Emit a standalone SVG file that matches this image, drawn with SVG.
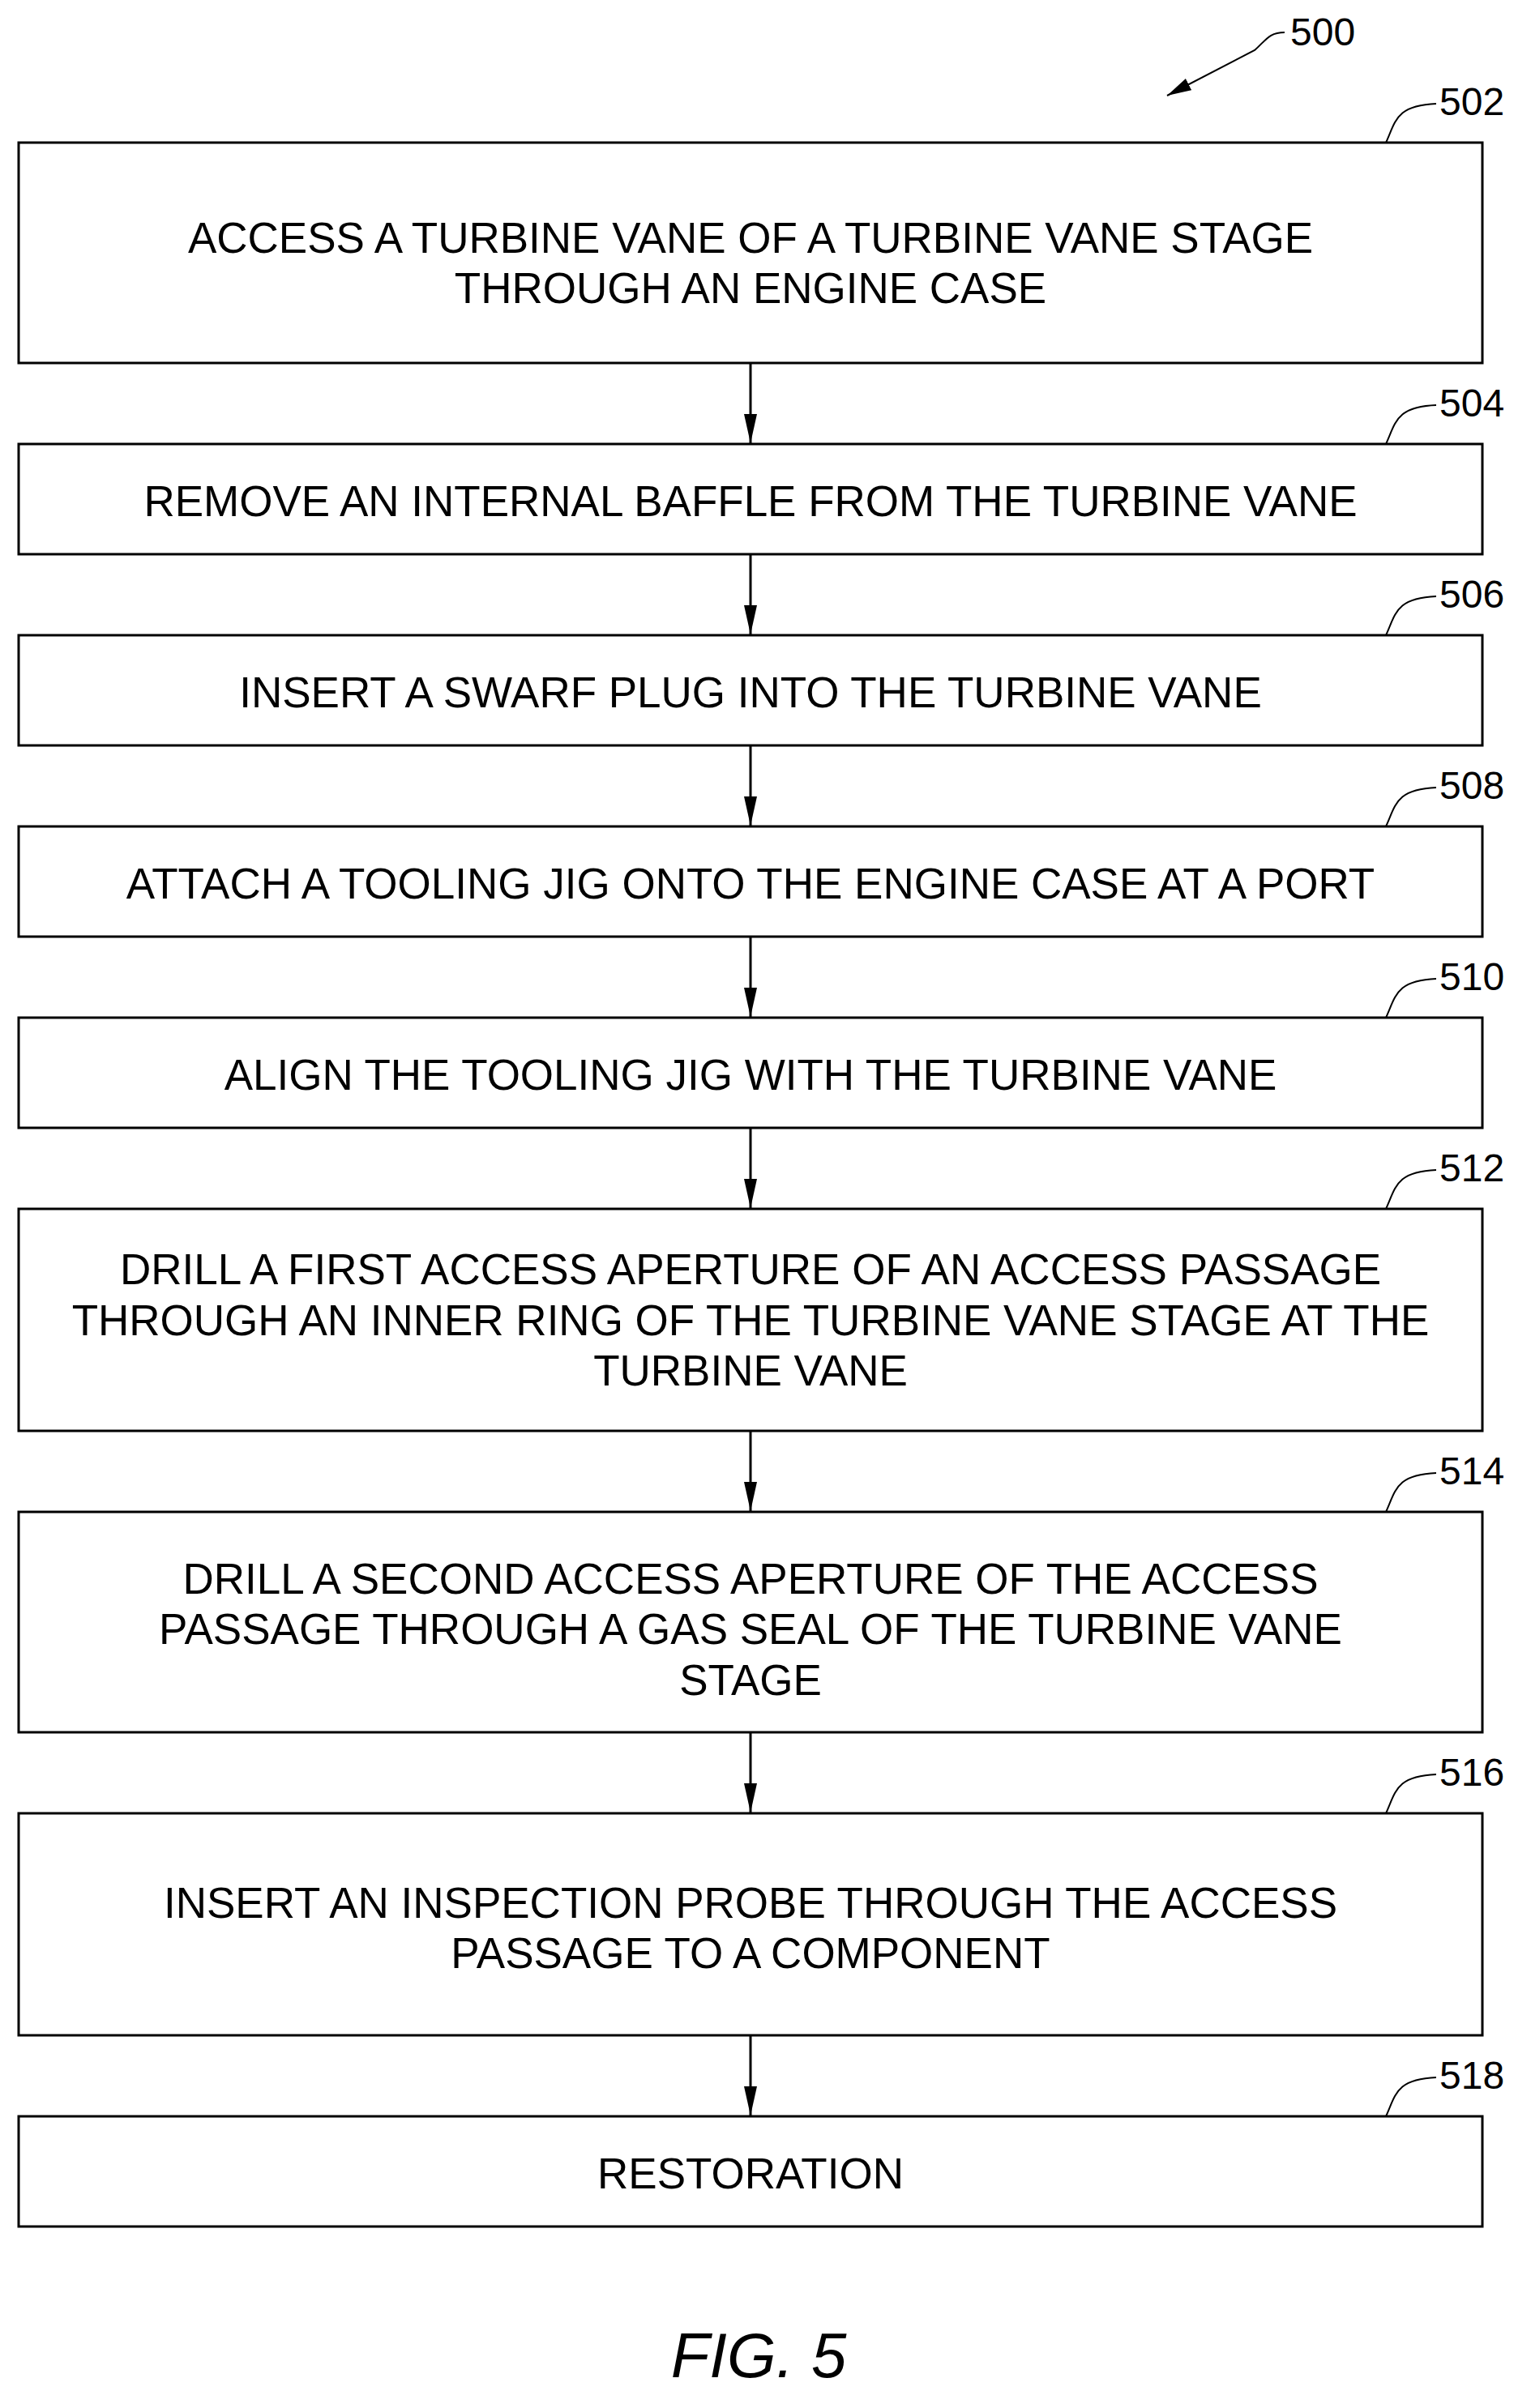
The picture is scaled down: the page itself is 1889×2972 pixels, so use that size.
<svg xmlns="http://www.w3.org/2000/svg" width="1889" height="2972" viewBox="0 0 1889 2972">
<style>
.b{fill:none;stroke:#000;stroke-width:3}
.t{font-family:"Liberation Sans",Arial,sans-serif;font-size:53px;text-anchor:middle;fill:#000}
.n{font-family:"Liberation Sans",Arial,sans-serif;font-size:48px;fill:#000}
.l{fill:none;stroke:#000;stroke-width:2}
.c{stroke:#000;stroke-width:3;marker-end:url(#a)}
</style>
<defs><marker id="a" markerWidth="36" markerHeight="16" refX="36" refY="8" orient="auto" markerUnits="userSpaceOnUse"><path d="M0,0 L36,8 L0,16 Z"/></marker>
<marker id="h" markerWidth="30" markerHeight="16" refX="30" refY="8" orient="auto" markerUnits="userSpaceOnUse"><path d="M0,0 L30,8 L0,16 Z"/></marker></defs>
<rect width="1889" height="2972" fill="#fff"/>
<g id="label500"><text class="n" x="1592" y="56">500</text><path class="l" d="M1585,40 C1565,40 1562,50 1548,62 L1440,118" marker-end="url(#h)"/></g>
<g id="n502"><rect class="b" x="23" y="176" width="1806" height="272"/><text class="t" x="926" y="312">ACCESS A TURBINE VANE OF A TURBINE VANE STAGE</text><text class="t" x="926" y="374">THROUGH AN ENGINE CASE</text><text class="n" x="1776" y="142">502</text><path class="l" d="M1710,176 C1722,150 1722,130 1772,128"/></g>
<g id="n504"><rect class="b" x="23" y="548" width="1806" height="136"/><text class="t" x="926" y="637">REMOVE AN INTERNAL BAFFLE FROM THE TURBINE VANE</text><text class="n" x="1776" y="514">504</text><path class="l" d="M1710,548 C1722,522 1722,502 1772,500"/></g>
<g id="n506"><rect class="b" x="23" y="784" width="1806" height="136"/><text class="t" x="926" y="873">INSERT A SWARF PLUG INTO THE TURBINE VANE</text><text class="n" x="1776" y="750">506</text><path class="l" d="M1710,784 C1722,758 1722,738 1772,736"/></g>
<g id="n508"><rect class="b" x="23" y="1020" width="1806" height="136"/><text class="t" x="926" y="1109">ATTACH A TOOLING JIG ONTO THE ENGINE CASE AT A PORT</text><text class="n" x="1776" y="986">508</text><path class="l" d="M1710,1020 C1722,994 1722,974 1772,972"/></g>
<g id="n510"><rect class="b" x="23" y="1256" width="1806" height="136"/><text class="t" x="926" y="1345">ALIGN THE TOOLING JIG WITH THE TURBINE VANE</text><text class="n" x="1776" y="1222">510</text><path class="l" d="M1710,1256 C1722,1230 1722,1210 1772,1208"/></g>
<g id="n512"><rect class="b" x="23" y="1492" width="1806" height="274"/><text class="t" x="926" y="1585">DRILL A FIRST ACCESS APERTURE OF AN ACCESS PASSAGE</text><text class="t" x="926" y="1648">THROUGH AN INNER RING OF THE TURBINE VANE STAGE AT THE</text><text class="t" x="926" y="1710">TURBINE VANE</text><text class="n" x="1776" y="1458">512</text><path class="l" d="M1710,1492 C1722,1466 1722,1446 1772,1444"/></g>
<g id="n514"><rect class="b" x="23" y="1866" width="1806" height="272"/><text class="t" x="926" y="1967">DRILL A SECOND ACCESS APERTURE OF THE ACCESS</text><text class="t" x="926" y="2029">PASSAGE THROUGH A GAS SEAL OF THE TURBINE VANE</text><text class="t" x="926" y="2092">STAGE</text><text class="n" x="1776" y="1832">514</text><path class="l" d="M1710,1866 C1722,1840 1722,1820 1772,1818"/></g>
<g id="n516"><rect class="b" x="23" y="2238" width="1806" height="274"/><text class="t" x="926" y="2367">INSERT AN INSPECTION PROBE THROUGH THE ACCESS</text><text class="t" x="926" y="2429">PASSAGE TO A COMPONENT</text><text class="n" x="1776" y="2204">516</text><path class="l" d="M1710,2238 C1722,2212 1722,2192 1772,2190"/></g>
<g id="n518"><rect class="b" x="23" y="2612" width="1806" height="136"/><text class="t" x="926" y="2701">RESTORATION</text><text class="n" x="1776" y="2578">518</text><path class="l" d="M1710,2612 C1722,2586 1722,2566 1772,2564"/></g>
<g id="connectors">
<path class="c" d="M926,448 V547"/><path class="c" d="M926,684 V783"/><path class="c" d="M926,920 V1019"/><path class="c" d="M926,1156 V1255"/><path class="c" d="M926,1392 V1491"/><path class="c" d="M926,1766 V1865"/><path class="c" d="M926,2138 V2237"/><path class="c" d="M926,2512 V2611"/>
</g>
<text x="936" y="2934" font-family="Liberation Sans,Arial,sans-serif" font-size="78" font-style="italic" text-anchor="middle">FIG. 5</text>
</svg>
